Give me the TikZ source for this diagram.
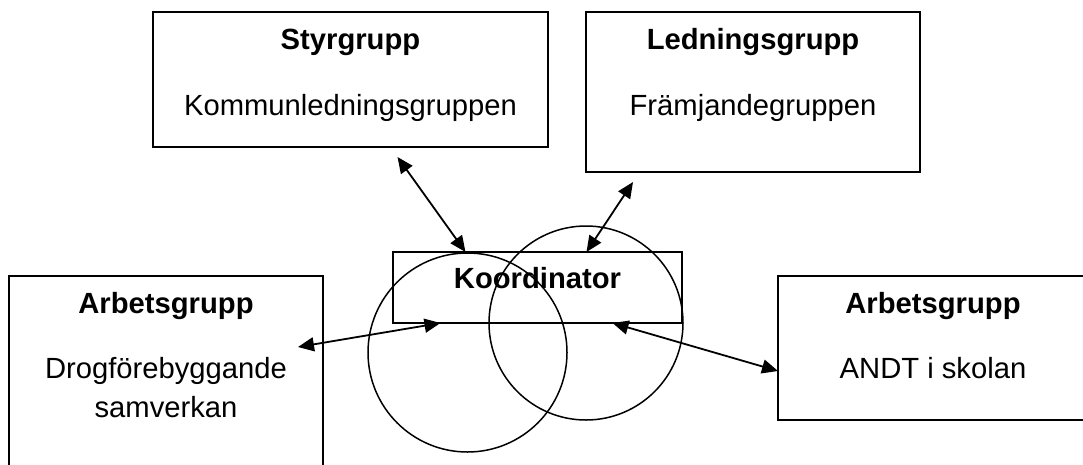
\documentclass[tikz,border=0pt]{standalone}
\usepackage{fontspec}
\setmainfont{Liberation Sans}
\usetikzlibrary{arrows.meta,positioning}
\newcommand{\grpfont}{\fontsize{29.2}{39}\selectfont}
\tikzset{
	grp/.style={draw, line width=1.8pt, inner sep=0, outer sep=0},
	ring/.style={draw, circle, line width=1.5pt, inner sep=0},
	head/.style={anchor=base, font=\grpfont\bfseries},
	sub/.style={anchor=base, align=center, font=\grpfont}
}

\begin{document}
\begin{tikzpicture}[x=1pt, y=-1pt, <->, >={Triangle[length=16pt,width=14pt]}, line width=1.8pt]
\useasboundingbox (0,0) rectangle (1083,464);
\clip (0,0) rectangle (1083,464);
\node[grp, minimum width=395pt, minimum height=135pt] (styr) at (350.5, 79.5) {};
\node[head] (styr_h) at ([yshift=-37pt]styr.north) {Styrgrupp};
\node[sub] (styr_s) at ([yshift=-103pt]styr.north) {Kommunledningsgruppen};
\node[grp, minimum width=334pt, minimum height=160pt] (led) at (753, 92) {};
\node[head] (led_h) at ([yshift=-37pt]led.north) {Ledningsgrupp};
\node[sub] (led_s) at ([yshift=-103pt]led.north) {Främjandegruppen};
\node[ring, minimum size=199pt] (c1) at (467.5, 352.5) {};
\node[ring, minimum size=194pt] (c2) at (586, 323) {};
\node[grp, minimum width=289pt, minimum height=71pt] (koord) at (537.5, 287.5) {};
\node[head] (koord_h) at ([yshift=-36pt]koord.north) {Koordinator};
\node[grp, minimum width=314pt, minimum height=200pt] (drog) at (166, 376) {};
\node[head] (drog_h) at ([yshift=-37pt]drog.north) {Arbetsgrupp};
\node[sub] (drog_s) at ([yshift=-141pt]drog.north) {Drogförebyggande\\samverkan};
\node[grp, minimum width=310pt, minimum height=144pt] (andt) at (933, 348) {};
\node[head] (andt_h) at ([yshift=-37pt]andt.north) {Arbetsgrupp};
\node[sub] (andt_s) at ([yshift=-102pt]andt.north) {ANDT i skolan};
\path ([xshift=47pt,yshift=-10pt]styr.south) edge ([xshift=-72pt]koord.north);
\path ([xshift=-120pt,yshift=-10pt]led.south) edge ([xshift=49pt]koord.north);
\path ([xshift=-25pt,yshift=29pt]drog.east) edge ([xshift=-97pt]koord.south);
\path ([xshift=75pt]koord.south) edge ([yshift=-23pt]andt.west);
\end{tikzpicture}
\end{document}
